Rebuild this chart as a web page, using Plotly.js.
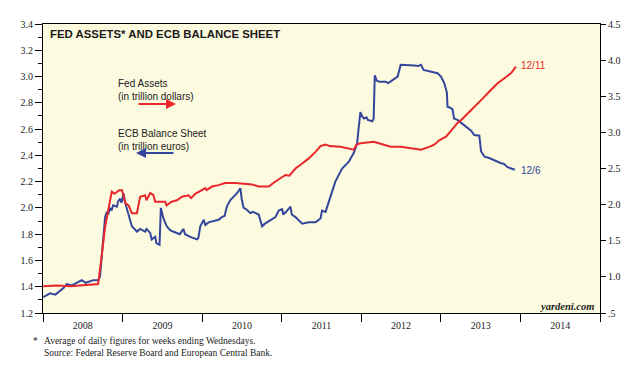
<!DOCTYPE html>
<html><head><meta charset="utf-8">
<script src="https://cdn.plot.ly/plotly-3.0.1.min.js"></script>
<style>body{margin:0;background:#fff}#chart{width:643px;height:365px}</style>
</head><body><div id="chart"></div>
<script>
// Fed assets, trillion dollars (right axis)
const fedDates = ['2008-01-02','2008-03-05','2008-05-07','2008-07-02','2008-09-10','2008-09-24','2008-10-12','2008-11-04','2008-11-12','2008-11-24',
 '2008-12-16','2008-12-29','2009-01-13','2009-01-28','2009-02-12','2009-03-07','2009-03-22','2009-04-14','2009-04-20','2009-05-07',
 '2009-05-22','2009-05-30','2009-06-22','2009-07-15','2009-07-21','2009-08-14','2009-09-07','2009-09-30','2009-10-30','2009-11-11',
 '2009-11-30','2010-01-15','2010-01-21','2010-02-15','2010-03-17','2010-04-16','2010-06-02','2010-07-02','2010-08-17','2010-09-17',
 '2010-11-02','2010-12-03','2011-01-18','2011-02-05','2011-03-05','2011-04-05','2011-05-05','2011-06-05','2011-06-28','2011-07-21',
 '2011-08-09','2011-09-27','2011-10-28','2011-11-28','2011-12-10','2011-12-28','2012-02-28','2012-04-14','2012-05-15','2012-06-30',
 '2012-07-31','2012-08-31','2012-10-01','2012-11-08','2012-12-01','2012-12-24','2013-01-24','2013-02-16','2013-03-18','2013-04-10',
 '2013-05-04','2013-06-03','2013-07-12','2013-08-19','2013-09-18','2013-10-19','2013-11-19','2013-12-11'];
const fedValues = [0.87,0.88,0.87,0.88,0.90,1.23,1.69,2.06,2.18,2.15,
 2.20,2.20,2.02,1.99,1.88,1.88,2.11,2.13,2.06,2.16,
 2.13,2.04,2.04,2.04,1.99,2.04,2.06,2.11,2.13,2.09,
 2.15,2.23,2.20,2.25,2.27,2.30,2.30,2.29,2.28,2.25,
 2.25,2.32,2.41,2.40,2.50,2.57,2.64,2.73,2.81,2.83,
 2.81,2.80,2.78,2.76,2.83,2.85,2.87,2.83,2.80,2.80,
 2.79,2.77,2.76,2.80,2.83,2.89,2.94,3.02,3.13,3.19,
 3.26,3.36,3.47,3.59,3.68,3.75,3.82,3.91];

// ECB balance sheet, trillion euros (left axis)
const ecbDates = ['2008-01-02','2008-02-02','2008-02-27','2008-04-04','2008-04-19','2008-05-12','2008-06-27','2008-07-15','2008-08-19','2008-09-11',
 '2008-09-19','2008-10-04','2008-10-12','2008-10-20','2008-10-26','2008-11-04','2008-11-11','2008-11-18','2008-12-05','2008-12-11',
 '2008-12-20','2008-12-26','2009-01-05','2009-01-12','2009-01-23','2009-02-05','2009-02-12','2009-02-18','2009-03-07','2009-03-22',
 '2009-04-14','2009-04-20','2009-05-07','2009-05-14','2009-05-30','2009-06-05','2009-06-19','2009-06-25','2009-07-07','2009-07-22',
 '2009-08-07','2009-08-20','2009-09-07','2009-09-20','2009-10-07','2009-10-14','2009-11-07','2009-12-08','2009-12-14','2009-12-23',
 '2010-01-08','2010-01-15','2010-01-30','2010-03-17','2010-04-01','2010-04-14','2010-04-24','2010-05-10','2010-05-22','2010-06-09',
 '2010-06-25','2010-07-01','2010-07-10','2010-07-22','2010-08-10','2010-08-22','2010-09-17','2010-10-03','2010-10-16','2010-11-03',
 '2010-12-03','2010-12-18','2011-01-03','2011-01-08','2011-01-21','2011-02-10','2011-02-16','2011-03-05','2011-04-05','2011-05-05',
 '2011-06-05','2011-06-28','2011-07-05','2011-07-21','2011-08-13','2011-09-04','2011-10-05','2011-11-04','2011-11-28','2011-12-13',
 '2011-12-19','2011-12-28','2012-01-04','2012-01-13','2012-01-25','2012-01-31','2012-02-21','2012-02-27','2012-03-03','2012-03-12',
 '2012-03-24','2012-04-22','2012-05-04','2012-05-23','2012-06-16','2012-06-30','2012-07-12','2012-07-31','2012-08-31','2012-09-18',
 '2012-10-01','2012-10-13','2012-11-15','2012-12-16','2013-01-01','2013-01-16','2013-01-28','2013-01-31','2013-02-16','2013-02-23',
 '2013-03-02','2013-03-18','2013-04-17','2013-05-18','2013-06-03','2013-06-26','2013-07-04','2013-07-20','2013-08-10','2013-09-03',
 '2013-10-04','2013-10-17','2013-11-03','2013-12-06'];
const ecbValues = [1.32,1.35,1.34,1.39,1.42,1.41,1.45,1.43,1.45,1.45,
 1.48,1.78,1.93,1.97,1.95,2.00,1.98,2.02,2.01,2.05,
 2.07,2.04,2.11,2.04,1.98,1.91,1.86,1.85,1.82,1.84,
 1.82,1.84,1.81,1.76,1.78,1.73,1.72,2.00,1.92,1.86,
 1.83,1.82,1.81,1.80,1.84,1.80,1.78,1.76,1.77,1.86,
 1.91,1.87,1.89,1.91,1.93,1.94,2.01,2.06,2.08,2.11,
 2.15,2.07,2.00,1.99,1.96,1.97,1.95,1.86,1.88,1.90,
 1.93,1.98,1.99,1.95,1.97,2.01,1.95,1.93,1.88,1.89,
 1.89,1.92,1.98,1.97,2.08,2.20,2.30,2.35,2.42,2.49,
 2.59,2.73,2.70,2.68,2.69,2.67,2.66,2.68,3.01,2.97,
 2.96,2.96,2.95,2.97,3.00,3.09,3.09,3.085,3.085,3.08,
 3.09,3.05,3.04,3.025,3.00,2.95,2.88,2.77,2.76,2.75,
 2.68,2.67,2.63,2.59,2.555,2.55,2.43,2.39,2.38,2.36,
 2.34,2.335,2.31,2.29];

const leftTicks = [1.2,1.4,1.6,1.8,2.0,2.2,2.4,2.6,2.8,3.0,3.2,3.4];
const rightTicks = [0.5,1.0,1.5,2.0,2.5,3.0,3.5,4.0,4.5];
const rightTickText = ['.5','1.0','1.5','2.0','2.5','3.0','3.5','4.0','4.5'];

const RED = '#e8262b', BLUE = '#34469c';
const L = 43, T = 24, W = 557, H = 289;
const px = x => (x - L) / W;
const py = y => (T + H - y) / H;
const serif = 'Liberation Serif, Times New Roman, serif';
const sans = 'Liberation Sans, Arial, sans-serif';

const traces = [
  {x: ecbDates, y: ecbValues, type: 'scatter', mode: 'lines', yaxis: 'y',
   line: {color: BLUE, width: 2}, hoverinfo: 'skip'},
  {x: fedDates, y: fedValues, type: 'scatter', mode: 'lines', yaxis: 'y2',
   line: {color: RED, width: 2}, hoverinfo: 'skip'}
];

const layout = {
  width: 643, height: 365,
  margin: {l: L, r: 643 - L - W, t: T, b: 365 - T - H, pad: 0},
  paper_bgcolor: '#ffffff', plot_bgcolor: '#fcfadf',
  showlegend: false,
  font: {family: serif, size: 10, color: '#222'},
  xaxis: {type: 'date', range: ['2008-01-01', '2015-01-01'], tick0: '2008-01-01', dtick: 'M12',
    tickformat: '%Y', ticklabelmode: 'period', ticks: 'outside', ticklen: 8, tickcolor: '#000',
    ticklabelstandoff: -5,
    showline: true, linecolor: '#000', linewidth: 1, mirror: true, showgrid: false, zeroline: false,
    tickfont: {family: serif, size: 10, color: '#222'}},
  yaxis: {range: [1.2, 3.4], tickvals: leftTicks, tickformat: '.1f', ticks: 'outside', ticklen: 7,
    tickcolor: '#000', showline: true, linecolor: '#000', showgrid: false, zeroline: false,
    minor: {dtick: 0.1, tick0: 1.2, ticks: 'outside', ticklen: 4, tickcolor: '#000', showgrid: false},
    tickfont: {family: serif, size: 10, color: '#222'}},
  yaxis2: {range: [0.5, 4.5], overlaying: 'y', side: 'right', tickvals: rightTicks, ticktext: rightTickText,
    ticks: 'outside', ticklen: 5, tickcolor: '#000', showline: true, linecolor: '#000',
    showgrid: false, zeroline: false, tickfont: {family: serif, size: 10, color: '#222'}},
  annotations: [
    {xref: 'paper', yref: 'paper', x: px(48), y: py(26), xanchor: 'left', yanchor: 'top', showarrow: false,
     text: '<b>FED ASSETS* AND ECB BALANCE SHEET</b>', font: {family: sans, size: 11.4, color: '#1a1a1a'}},
    {xref: 'paper', yref: 'paper', x: px(116), y: py(76), xanchor: 'left', yanchor: 'top', showarrow: false, align: 'left',
     text: 'Fed Assets<br>(in trillion dollars)', font: {family: sans, size: 10, color: '#1a1a1a'}},
    {xref: 'paper', yref: 'paper', x: px(116), y: py(126), xanchor: 'left', yanchor: 'top', showarrow: false, align: 'left',
     text: 'ECB Balance Sheet<br>(in trillion euros)', font: {family: sans, size: 10, color: '#1a1a1a'}},
    {xref: 'paper', yref: 'paper', x: px(176), y: py(104), ax: -39, ay: 0, text: '', showarrow: true,
     arrowhead: 2, arrowsize: 1, arrowwidth: 2, arrowcolor: RED, standoff: 0, startstandoff: 0},
    {xref: 'paper', yref: 'paper', x: px(136), y: py(153), ax: 39, ay: 0, text: '', showarrow: true,
     arrowhead: 2, arrowsize: 1, arrowwidth: 2, arrowcolor: BLUE, standoff: 0, startstandoff: 0},
    {xref: 'x', yref: 'y2', x: fedDates[fedDates.length - 1], y: fedValues[fedValues.length - 1], xanchor: 'left',
     xshift: 3, yshift: 1, showarrow: false, text: '12/11', font: {family: sans, size: 10, color: RED}},
    {xref: 'x', yref: 'y', x: ecbDates[ecbDates.length - 1], y: ecbValues[ecbValues.length - 1], xanchor: 'left',
     xshift: 4, yshift: -1, showarrow: false, text: '12/6', font: {family: sans, size: 10, color: BLUE}},
    {xref: 'paper', yref: 'paper', x: px(596), y: py(306), xanchor: 'right', yanchor: 'middle', showarrow: false,
     text: '<b><i>yardeni.com</i></b>', font: {family: serif, size: 10.5, color: '#222'}},
    {xref: 'paper', yref: 'paper', x: px(31), y: py(334), xanchor: 'left', yanchor: 'top', showarrow: false,
     text: '*', font: {family: serif, size: 9.5, color: '#222'}},
    {xref: 'paper', yref: 'paper', x: px(42), y: py(334), xanchor: 'left', yanchor: 'top', showarrow: false, align: 'left',
     text: 'Average of daily figures for weeks ending Wednesdays.<br>Source: Federal Reserve Board and European Central Bank.',
     font: {family: serif, size: 9.5, color: '#222'}}
  ]
};

Plotly.newPlot('chart', traces, layout, {staticPlot: true, displayModeBar: false});
</script></body></html>
